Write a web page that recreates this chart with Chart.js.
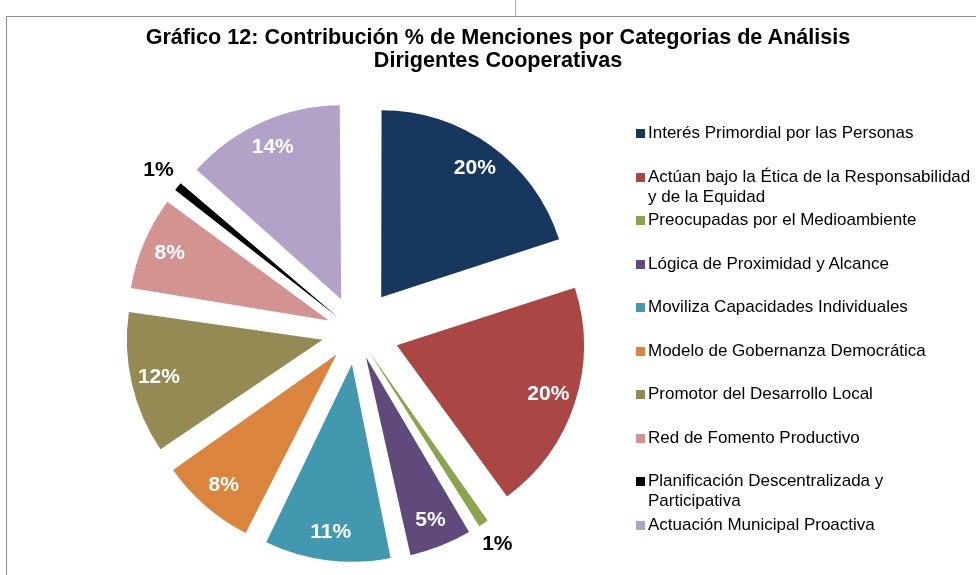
<!DOCTYPE html>
<html lang="es">
<head>
<meta charset="utf-8">
<title>Gráfico 12</title>
<script src="https://cdn.jsdelivr.net/npm/chart.js@4/dist/chart.umd.min.js"></script>
<style>
  html, body { margin: 0; padding: 0; background: #fff; overflow: hidden; }
  #wrap { position: relative; width: 976px; height: 575px; }
  #myChart { position: absolute; left: 0; top: 0; }
  #frame { position: absolute; left: 6px; top: 16px; width: 1000px; height: 600px;
    border-left: 1px solid #8c8c8c; border-top: 1px solid #8c8c8c; }
  #mark { position: absolute; left: 515px; top: 0; width: 1px; height: 16px; background: #f2a23c; }
  #title { position: absolute; left: 0; top: 25px; width: 996px; text-align: center;
    font: bold 21.6px "Liberation Sans", Arial, sans-serif; line-height: 23px; color: #000; }
  #legend { position: absolute; left: 636px; top: 123px; width: 340px;
    font: 17px "Liberation Sans", Arial, sans-serif; line-height: 20px; color: #000; }
  .item { position: relative; height: 43.5px; padding-left: 12px; }
  .item span { position: absolute; left: 0; top: 6px; width: 9px; height: 9px; }
</style>
</head>
<body>
<div id="wrap">
  <div id="frame"></div>
  <div id="mark"></div>
  <canvas id="myChart" width="976" height="575"></canvas>
  <div id="title"></div>
  <div id="legend"></div>
</div>
<script>
'use strict';

//Chart data
let titleLines = ['Gráfico 12: Contribución % de Menciones por Categorias de Análisis', 'Dirigentes Cooperativas'];
let categories = [
  'Interés Primordial por las Personas',
  'Actúan bajo la Ética de la Responsabilidad y de la Equidad',
  'Preocupadas por el Medioambiente',
  'Lógica de Proximidad y Alcance',
  'Moviliza Capacidades Individuales',
  'Modelo de Gobernanza Democrática',
  'Promotor del Desarrollo Local',
  'Red de Fomento Productivo',
  'Planificación Descentralizada y Participativa',
  'Actuación Municipal Proactiva'
];
let percents = [20.0, 20.0, 1.3, 5.4, 10.6, 8.1, 12.0, 7.9, 1.2, 13.5];
let colors = ['#17375E', '#AA4643', '#89A54E', '#604A7B', '#4198AF', '#DB843D', '#948A54', '#D39391', '#000000', '#B3A2C7'];
// the small slices get their label outside, in black
let outsideLabel = [false, false, true, false, false, false, false, false, true, false];

//How far every slice is pulled out of the pie, in pixels
let explode = 45;
let total = percents.reduce((a, b) => a + b, 0);

//Chart.js moves an arc by offset/4 * (2 - sin(angle)), so undo that to get the same gap everywhere
function sliceOffset(c){
  let circ = percents[c.dataIndex] / total * Math.PI * 2;
  let fix = 1 - Math.sin(Math.min(Math.PI, circ));
  return explode * 4 / (1 + fix);
}

//Title and legend
document.querySelector('#title').innerHTML = titleLines.join('<br>');
let legend = document.querySelector('#legend');
for (let i = 0; i < categories.length; i++){
  let item = document.createElement('div');
  item.className = 'item';
  let box = document.createElement('span');
  box.style.background = colors[i];
  item.appendChild(box);
  item.appendChild(document.createTextNode(categories[i]));
  legend.appendChild(item);
}

//Percent labels on the slices
let sliceLabels = {
  id: 'sliceLabels',
  afterDatasetsDraw(chart){
    let ctx = chart.ctx;
    let meta = chart.getDatasetMeta(0);
    ctx.save();
    ctx.font = 'bold 21px "Liberation Sans", Arial, sans-serif';
    ctx.textAlign = 'center';
    ctx.textBaseline = 'middle';
    meta.data.forEach(function(arc, i){
      let p = arc.getProps(['x', 'y', 'startAngle', 'endAngle', 'outerRadius']);
      let mid = (p.startAngle + p.endAngle) / 2;
      let dist = outsideLabel[i] ? p.outerRadius + 25 : p.outerRadius * 0.85;
      let x = p.x + Math.cos(mid) * (explode + dist);
      let y = p.y + Math.sin(mid) * (explode + dist);
      ctx.fillStyle = outsideLabel[i] ? '#000' : '#fff';
      ctx.fillText(Math.round(percents[i]) + '%', x, y);
    });
    ctx.restore();
  }
};

let ctx = document.getElementById('myChart').getContext('2d');
new Chart(ctx, {
  type: 'pie',
  data: {
    labels: categories,
    datasets: [{
      data: percents,
      backgroundColor: colors,
      borderWidth: 0,
      offset: sliceOffset,
      hoverOffset: sliceOffset,
      radius: 185,
      clip: false
    }]
  },
  options: {
    responsive: false,
    animation: false,
    events: [],
    layout: {
      padding: { left: 0, right: 264, top: 89, bottom: 0 }
    },
    plugins: {
      legend: { display: false },
      title: { display: false },
      tooltip: { enabled: false }
    }
  },
  plugins: [sliceLabels]
});
</script>
</body>
</html>
